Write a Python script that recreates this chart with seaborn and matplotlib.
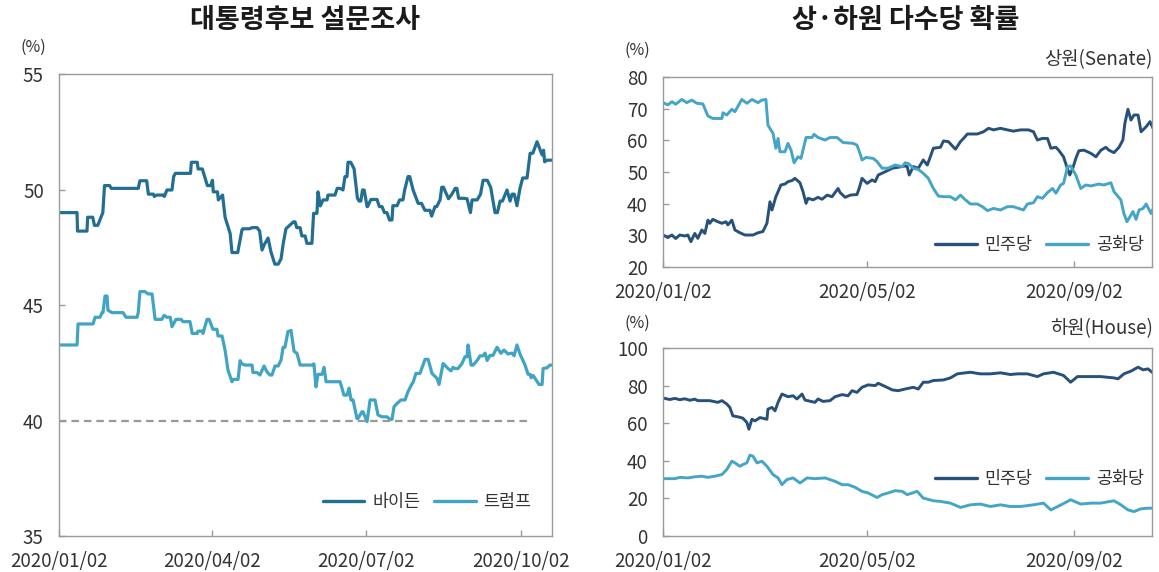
import numpy as np
import pandas as pd
import matplotlib
matplotlib.use("Agg")
import matplotlib.pyplot as plt
import matplotlib.dates as mdates
from matplotlib.lines import Line2D
import seaborn as sns

# ---------------- data (days since 2020-01-02, values in %) ----------------
biden_day = [0, 10.7, 11, 16.6, 17, 20, 21, 23, 26, 27,
             30, 31, 47, 48, 52, 53, 56, 56.5, 58, 62,
             62.5, 64, 67, 68, 69, 78, 78.5, 82, 82.5, 85,
             88, 90, 91, 91.5, 94, 94.5, 97, 98.5, 101.5, 102.6,
             106, 108.5, 109, 113, 114.5, 117.5, 119, 120.4, 122, 124,
             125.7, 128, 130, 131.7, 133, 134.6, 139, 140, 141, 143,
             144, 146, 147, 150, 151, 153, 153.6, 155, 156.6, 159,
             159.5, 163.7, 165, 166.7, 168.4, 169.6, 170.8, 171.4, 173, 175,
             177, 178, 179, 180, 181, 182.7, 183, 185, 188.6, 190,
             191.6, 193, 194.5, 196, 197.5, 198, 200.5, 202, 204, 205,
             207, 208, 210, 213, 215, 217, 220, 221, 223, 224,
             226, 227, 228, 231, 233, 235, 236, 237, 240, 242,
             244, 245, 248, 250, 251.5, 254, 256, 258.6, 260, 261.6,
             263, 265.7, 267.5, 268.7, 270, 271.6, 273.4, 275, 277.6, 279.4,
             281, 283.5, 286.5, 287.4, 288, 289.4, 292.4]
biden_val = [49.0, 49.0, 48.2, 48.2, 48.8, 48.8, 48.45, 48.45, 49.0, 50.17,
             50.17, 50.05, 50.05, 50.38, 50.38, 49.8, 49.8, 49.7, 49.76, 49.76,
             49.7, 49.98, 49.98, 50.56, 50.7, 50.7, 51.18, 51.18, 50.89, 50.89,
             50.17, 50.17, 50.4, 49.9, 49.9, 49.55, 49.76, 48.8, 48.1, 47.27,
             47.27, 48.25, 48.3, 48.3, 48.35, 48.35, 48.2, 47.38, 47.65, 47.9,
             47.3, 46.77, 46.77, 47.0, 47.67, 48.3, 48.6, 48.6, 48.35, 48.35,
             47.99, 47.99, 47.67, 47.67, 48.97, 48.97, 49.9, 49.29, 49.55, 49.55,
             49.76, 49.76, 50.05, 50.05, 49.98, 50.56, 50.56, 51.18, 51.18, 50.9,
             49.62, 49.5, 49.5, 49.98, 49.98, 49.26, 49.26, 49.57, 49.57, 49.26,
             49.26, 49.0, 49.0, 48.68, 48.68, 49.3, 49.3, 49.55, 49.55, 49.98,
             50.56, 50.56, 49.98, 49.4, 49.4, 49.1, 49.1, 48.85, 49.26, 49.26,
             49.55, 50.1, 50.1, 49.6, 49.8, 50.05, 50.05, 49.62, 49.62, 49.6,
             49.0, 49.55, 49.55, 49.8, 50.4, 50.4, 50.1, 49.0, 49.0, 49.5,
             49.5, 49.98, 49.5, 49.8, 49.8, 49.3, 50.05, 50.5, 50.5, 51.57,
             51.57, 52.07, 51.5, 51.7, 51.2, 51.27, 51.27]

trump_day = [0, 10.7, 11.3, 20.2, 21.4, 24.3, 25.5, 26.1, 27.3, 28.5,
             29, 31.4, 38, 39.7, 46.3, 47, 48, 51, 52.8, 55.2,
             57, 61, 62.3, 64, 66, 67, 69.4, 72.4, 73.5, 77.7,
             79, 82, 82.4, 85, 85.4, 87.8, 89, 90, 91.3, 93.7,
             94.3, 96.7, 98.5, 100.2, 102.6, 103.2, 106.2, 107.4, 108.5, 110.3,
             114.5, 115, 117.4, 119.2, 121.6, 123.4, 125.1, 126.3, 128.1, 130,
             131.7, 132.9, 134, 135.8, 137.6, 139.4, 141.2, 143, 150, 151.2,
             152.4, 153.6, 156, 157.2, 158.4, 166.7, 169, 170.8, 172, 173.2,
             174.4, 176.7, 177.3, 179.7, 180.3, 182.7, 184.5, 187.4, 189.2, 191.6,
             194.5, 196.3, 197.5, 198.7, 200.5, 202.8, 205.2, 207, 209.4, 210,
             211.7, 214.1, 217.1, 218.9, 221.2, 224.2, 225.4, 227.8, 230.7, 232.5,
             233.7, 234.9, 236.7, 239, 240.8, 242, 242.6, 244.4, 245.6, 248,
             249.7, 251.5, 252.7, 253.9, 255.6, 257.4, 259.8, 262.1, 263.9, 266.3,
             268.7, 269.9, 271.6, 273.4, 276.4, 278.2, 279.4, 280, 281.2, 284.7,
             286.5, 287.1, 289.4, 291.2, 292.4]
trump_val = [43.27, 43.27, 44.18, 44.18, 44.47, 44.47, 44.67, 44.67, 45.39, 45.39,
             44.78, 44.67, 44.67, 44.47, 44.47, 44.67, 45.58, 45.58, 45.48, 45.48,
             44.38, 44.38, 44.55, 44.47, 44.47, 44.06, 44.38, 44.38, 44.28, 44.28,
             43.77, 43.77, 43.87, 43.87, 43.77, 44.38, 44.38, 44.2, 43.95, 43.95,
             43.66, 43.66, 43.05, 42.19, 41.68, 41.78, 41.78, 42.59, 42.45, 42.4,
             42.4, 42.08, 42.08, 41.97, 42.36, 42.1, 41.97, 41.97, 42.36, 42.36,
             42.62, 43.17, 43.17, 43.85, 43.9, 43.0, 42.9, 42.4, 42.4, 42.45,
             41.46, 42.0, 42.0, 42.3, 41.68, 41.68, 41.1, 41.1, 41.4, 40.89,
             40.89, 40.09, 40.09, 40.38, 40.38, 39.95, 40.89, 40.89, 40.24, 40.16,
             40.16, 40.05, 40.05, 40.6, 40.74, 40.89, 40.89, 41.25, 41.6, 41.65,
             42.04, 42.04, 42.65, 42.65, 42.04, 41.82, 41.56, 42.47, 42.25, 42.15,
             42.3, 42.25, 42.25, 42.47, 42.76, 42.76, 43.27, 42.4, 42.4, 42.6,
             42.8, 42.8, 42.92, 42.6, 42.82, 42.82, 43.17, 42.91, 43.05, 42.88,
             42.92, 42.8, 43.27, 42.88, 42.4, 42.0, 42.0, 41.85, 41.95, 41.56,
             41.56, 42.25, 42.28, 42.4, 42.4]

senate_dem_day = [0, 2.8, 5.2, 7.5, 9.9, 12.9, 14.7, 16.5, 18.8, 20.6,
                  23, 24.8, 26.6, 27.7, 29.5, 32.5, 34.9, 37.3, 38.4, 40.8,
                  42.6, 45.6, 48.6, 53.3, 56.3, 59.2, 61.6, 63.4, 64.6, 66.9,
                  68.2, 69.9, 72.3, 74.1, 76.5, 78.2, 81.2, 83, 84.8, 86,
                  89, 91.9, 94.3, 97.3, 100.2, 103.8, 105, 108, 111, 115,
                  116.3, 118, 121, 124, 125.8, 127.6, 131.8, 136, 139.5, 143.6,
                  144.8, 146, 148.4, 151.4, 154.3, 156.7, 158.5, 160.3, 164.5, 166.3,
                  169.2, 173.4, 176.4, 178.2, 180.5, 186.4, 190, 193, 196, 200.1,
                  204.2, 207.8, 212, 216.7, 219.7, 222, 225, 228, 230, 233,
                  234.6, 237.5, 239.4, 241.2, 243, 244.8, 246.6, 249.6, 253.7, 256.7,
                  259.7, 262.6, 264.4, 267.4, 270.4, 272.7, 273.9, 275.7, 277.5, 279.3,
                  281.7, 283.5, 286.5, 288.8, 290.6]
senate_dem_val = [30.1, 29.3, 30.1, 29.0, 30.1, 29.8, 30.1, 28.0, 30.6, 29.05,
                  31.7, 30.6, 34.8, 33.8, 35.05, 34.3, 33.8, 34.3, 33.3, 34.8,
                  31.7, 30.8, 30.1, 30.1, 30.8, 31.2, 33.8, 40.6, 38.0, 42.2,
                  43.8, 45.9, 46.2, 46.95, 47.3, 48.0, 46.6, 43.8, 40.1, 41.7,
                  41.2, 42.0, 41.4, 42.7, 42.2, 44.8, 43.5, 42.0, 42.7, 42.9,
                  44.8, 48.0, 46.4, 47.5, 46.95, 49.05, 50.1, 51.2, 51.5, 51.9,
                  51.7, 49.05, 51.7, 51.2, 53.8, 52.2, 54.8, 57.5, 57.8, 59.8,
                  59.6, 57.2, 59.6, 60.6, 62.0, 62.0, 62.7, 63.8, 63.3, 63.8,
                  63.3, 62.9, 63.3, 63.3, 62.7, 60.1, 60.6, 60.6, 57.5, 57.8,
                  56.9, 54.8, 51.7, 49.05, 51.2, 54.3, 56.7, 56.9, 55.9, 54.8,
                  56.9, 57.8, 56.9, 56.1, 57.8, 60.1, 65.4, 69.8, 66.4, 68.0,
                  68.0, 62.7, 64.3, 65.9, 63.8]

senate_rep_day = [0, 2.8, 5.2, 7.5, 11.1, 14.1, 17.1, 20, 23.6, 26.6,
                  29.5, 34.9, 35.5, 37.8, 40.8, 42.6, 45.6, 46.7, 49.7, 52.7,
                  56.3, 58.6, 61, 62.2, 65.2, 66.9, 68.2, 69.3, 72.3, 74.1,
                  75.9, 77.7, 80, 81.8, 84.8, 88.4, 89.5, 91.9, 96.1, 99,
                  103.2, 106.8, 112.7, 115, 116.9, 118, 120.4, 124.6, 126.9, 129.9,
                  133.5, 137.6, 141.8, 143.6, 145.4, 148.4, 151.4, 154.3, 157.3, 160.3,
                  163.3, 166.3, 170.4, 173.4, 176.4, 179.3, 182.3, 186.4, 189.4, 192.4,
                  196, 200.1, 204.2, 207.8, 213.7, 216.1, 219.7, 222, 225, 228,
                  231, 233, 235.8, 237.5, 239.9, 241.7, 244.8, 247.7, 250.7, 253.7,
                  258.4, 261.4, 265.6, 267.4, 271.5, 273.3, 275.1, 278.7, 280.5, 282.3,
                  284.7, 286.5, 289.4, 291.2]
senate_rep_val = [71.9, 71.2, 72.2, 71.4, 72.9, 71.9, 72.7, 71.7, 71.5, 67.7,
                  66.9, 66.9, 68.7, 68.0, 69.8, 69.05, 71.9, 72.9, 71.7, 72.9,
                  71.9, 72.7, 72.9, 64.8, 62.2, 57.5, 60.6, 56.4, 56.4, 59.05,
                  56.9, 52.9, 54.8, 54.3, 60.9, 60.9, 61.9, 60.9, 60.1, 60.9,
                  60.9, 59.3, 59.05, 58.5, 55.7, 53.8, 54.6, 54.3, 53.3, 51.2,
                  51.2, 52.2, 51.7, 52.9, 52.7, 51.2, 50.8, 49.6, 48.0, 44.8,
                  42.4, 42.2, 42.2, 41.2, 42.7, 41.2, 39.9, 39.9, 39.05, 37.8,
                  38.5, 38.0, 39.05, 39.05, 38.0, 39.9, 40.3, 42.2, 41.7, 43.5,
                  44.8, 43.3, 45.9, 46.4, 51.7, 51.9, 49.05, 44.8, 45.9, 45.6,
                  46.2, 45.9, 46.6, 43.8, 41.2, 36.9, 34.3, 37.5, 35.05, 38.0,
                  38.5, 39.9, 36.9, 39.05]

house_dem_day = [0, 4, 7, 9.9, 12.9, 15.9, 18.8, 20.6, 23, 27.7,
                 32.5, 34.9, 37.8, 39.6, 41.4, 44.4, 47.3, 49.7, 50.9, 52.7,
                 54.5, 57.5, 61.6, 62.2, 64.6, 66.4, 68.2, 70.5, 74.1, 77.1,
                 79.4, 82.4, 84.2, 90.1, 91.9, 94.9, 99, 102, 106.2, 109.7,
                 112.1, 115, 118, 121.6, 125.8, 127.6, 131.8, 136, 139.5, 143.6,
                 148.4, 151.4, 154.3, 157.3, 160.3, 166.3, 170.4, 174.5, 177.5, 182.3,
                 188.2, 194.1, 200.1, 206, 210.2, 216.1, 222, 225.6, 231.5, 237.5,
                 241.7, 245.8, 251.8, 259.5, 267.4, 269.8, 273.3, 277.5, 281.7, 284.7,
                 287.6, 291.2]
house_dem_val = [73.4, 72.6, 73.2, 72.5, 73.0, 72.2, 72.8, 72.0, 72.0, 72.0,
                 71.1, 72.0, 70.2, 68.4, 63.9, 63.4, 62.7, 60.4, 56.8, 62.1,
                 61.25, 63.0, 62.1, 67.5, 68.4, 66.6, 71.1, 75.5, 74.1, 74.6,
                 72.9, 75.5, 72.3, 71.1, 72.9, 71.6, 72.0, 74.1, 75.2, 74.6,
                 77.3, 76.4, 79.1, 80.4, 80.0, 81.25, 79.5, 77.7, 77.3, 78.2,
                 79.1, 78.2, 81.8, 81.8, 82.7, 83.0, 84.1, 86.25, 86.6, 87.1,
                 86.25, 86.25, 86.8, 85.9, 86.25, 86.25, 84.8, 86.25, 87.1, 85.4,
                 81.8, 84.8, 84.8, 84.8, 84.1, 83.6, 86.25, 87.7, 89.8, 88.4,
                 88.9, 86.25]

house_rep_day = [0, 7, 9.9, 14.7, 18.8, 23, 26.6, 30.7, 34.9, 37.8,
                 40.8, 42.6, 45.6, 47.3, 49.7, 51.5, 53.3, 55.7, 58.6, 61.6,
                 65.2, 68.2, 70.5, 73.4, 77.1, 81.2, 85.4, 90.1, 96.1, 102,
                 106.2, 109.7, 113.9, 118, 121.6, 126.9, 129.9, 133.5, 137.6, 141.8,
                 144.8, 150.7, 154.3, 160.3, 164.5, 170.4, 176.4, 182.3, 188.2, 194.1,
                 200.1, 206, 212, 219.7, 225.6, 230, 234.1, 239.9, 241.7, 247.7,
                 253.7, 259.5, 267.4, 271.5, 275.7, 279.3, 283.5, 287.6, 291.2]
house_rep_val = [30.5, 30.5, 31.2, 30.9, 31.5, 31.8, 31.2, 31.8, 32.7, 35.4,
                 39.8, 38.9, 37.1, 38.0, 38.9, 43.0, 42.5, 38.9, 39.8, 37.1,
                 32.7, 30.9, 27.3, 30.0, 30.9, 28.2, 30.9, 30.5, 30.9, 29.1,
                 27.3, 27.3, 25.9, 23.75, 22.9, 20.5, 22.0, 22.9, 24.1, 23.75,
                 22.0, 23.75, 20.2, 18.75, 18.4, 17.5, 15.2, 16.6, 17.0, 15.7,
                 16.6, 15.7, 15.7, 16.6, 17.5, 13.9, 15.7, 18.4, 19.3, 17.0,
                 17.5, 17.5, 18.75, 16.6, 13.9, 13.0, 14.5, 14.8, 14.8]

left_ticks = ["2020-01-02", "2020-04-02", "2020-07-02", "2020-10-02"]
right_ticks = ["2020-01-02", "2020-05-02", "2020-09-02"]
left_yticks = [35, 40, 45, 50, 55]
senate_yticks = [20, 30, 40, 50, 60, 70, 80]
house_yticks = [0, 20, 40, 60, 80, 100]
ref_line = 40

# ---------------- style ----------------
sns.set_theme(style="white")
plt.rcParams["font.family"] = ["Noto Sans CJK KR", "DejaVu Sans"]
TXT = "#333333"
SPINE = "#9a9a9a"

start = pd.Timestamp("2020-01-02")


def to_dates(days):
    return start + pd.to_timedelta(np.asarray(days, dtype=float), unit="D")


def frame(pairs):
    parts = []
    for name, d, v in pairs:
        parts.append(pd.DataFrame({"date": to_dates(d), "value": v, "series": name}))
    return pd.concat(parts, ignore_index=True)


fig = plt.figure(figsize=(11.59, 5.72), dpi=100)
axL = fig.add_axes([0.0509, 0.0629, 0.4254, 0.8077])
axT = fig.add_axes([0.5721, 0.5332, 0.4219, 0.3322])
axB = fig.add_axes([0.5721, 0.0629, 0.4219, 0.3287])


def style_axes(ax, yticks, xticks, xend):
    for s in ax.spines.values():
        s.set_visible(True)
        s.set_color(SPINE)
        s.set_linewidth(1.0)
    ax.set_yticks(yticks)
    ax.set_ylim(yticks[0], yticks[-1])
    ax.set_xticks(pd.to_datetime(xticks))
    ax.xaxis.set_major_formatter(mdates.DateFormatter("%Y/%m/%d"))
    ax.set_xlim(start, start + pd.Timedelta(days=xend))
    ax.tick_params(axis="both", direction="in", length=4, width=1.0, color=SPINE,
                   labelsize=13.5, labelcolor=TXT, pad=11)
    ax.tick_params(axis="y", left=True, right=False)
    ax.tick_params(axis="x", bottom=True, top=False)
    ax.set_xlabel("")
    ax.set_ylabel("")
    ax.grid(False)


def add_legend(ax, colors, labels, anchor):
    ax.legend(handles=[Line2D([], [], color=c, lw=2.4) for c in colors], labels=labels,
              ncol=2, loc="lower right", bbox_to_anchor=anchor, frameon=False,
              fontsize=12.5, handlelength=2.4, columnspacing=0.8, handletextpad=0.45,
              labelcolor=TXT)


# ---- left: presidential polls ----
BIDEN = "#236F93"
TRUMP = "#42A4C4"
dfL = frame([("바이든", biden_day, biden_val), ("트럼프", trump_day, trump_val)])
sns.lineplot(data=dfL, x="date", y="value", hue="series", palette={"바이든": BIDEN, "트럼프": TRUMP},
             ax=axL, linewidth=2.3, sort=False, estimator=None, legend=False)
axL.hlines(ref_line, start, start + pd.Timedelta(days=279), colors="#999999",
           linewidth=1.6, linestyles=(0, (3.4, 2.2)))
style_axes(axL, left_yticks, left_ticks, 292.4)
add_legend(axL, [BIDEN, TRUMP], ["바이든", "트럼프"], (0.99, 0.02))

# ---- right: senate & house ----
DEM = "#27507A"
REP = "#45A5C6"
pal = {"민주당": DEM, "공화당": REP}
dfT = frame([("민주당", senate_dem_day, senate_dem_val), ("공화당", senate_rep_day, senate_rep_val)])
sns.lineplot(data=dfT, x="date", y="value", hue="series", palette=pal, ax=axT,
             linewidth=2.1, sort=False, estimator=None, legend=False)
style_axes(axT, senate_yticks, right_ticks, 290)

dfB = frame([("민주당", house_dem_day, house_dem_val), ("공화당", house_rep_day, house_rep_val)])
sns.lineplot(data=dfB, x="date", y="value", hue="series", palette=pal, ax=axB,
             linewidth=2.1, sort=False, estimator=None, legend=False)
style_axes(axB, house_yticks, right_ticks, 290)

add_legend(axT, [DEM, REP], ["민주당", "공화당"], (1.015, -0.015))
add_legend(axB, [DEM, REP], ["민주당", "공화당"], (1.015, 0.17))

# ---- texts ----
W, H = 1159, 572
fig.text(305 / W, 1 - 20 / H, "대통령후보 설문조사", ha="center", va="center",
         fontsize=19.5, fontweight="bold", color="#1a1a1a")
fig.text(906 / W, 1 - 20 / H, "상·하원 다수당 확률", ha="center", va="center",
         fontsize=19.5, fontweight="bold", color="#1a1a1a")
fig.text(33 / W, 1 - 47 / H, "(%)", ha="center", va="center", fontsize=11.5, color=TXT)
fig.text(637 / W, 1 - 50 / H, "(%)", ha="center", va="center", fontsize=11.5, color=TXT)
fig.text(637 / W, 1 - 323 / H, "(%)", ha="center", va="center", fontsize=11.5, color=TXT)
fig.text(1153 / W, 1 - 60 / H, "상원(Senate)", ha="right", va="center", fontsize=13.5, color=TXT)
fig.text(1153 / W, 1 - 329 / H, "하원(House)", ha="right", va="center", fontsize=13.5, color=TXT)

fig.savefig("out.png", dpi=100, facecolor="white")
